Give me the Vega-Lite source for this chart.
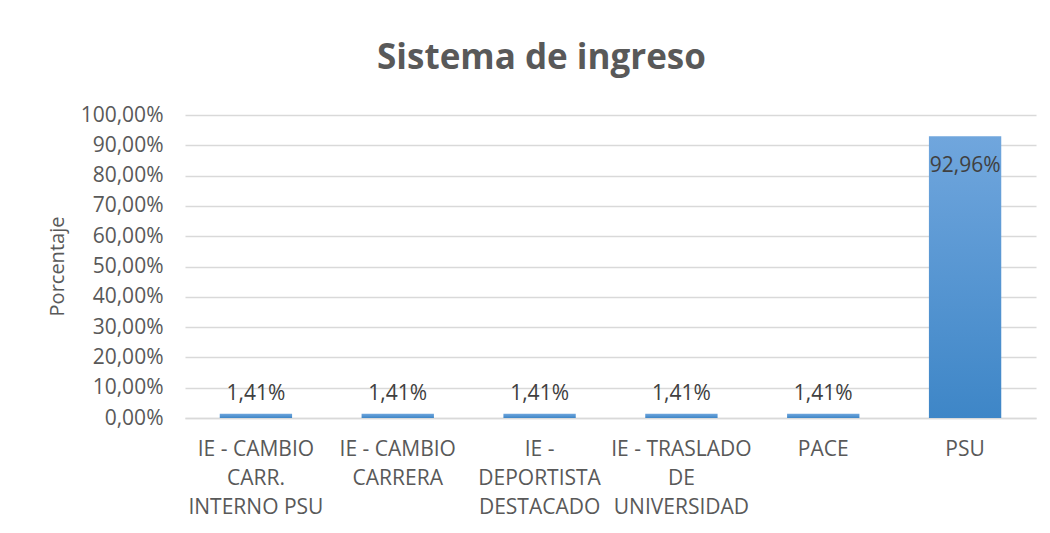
{
  "$schema": "https://vega.github.io/schema/vega-lite/v6.json",
  "width": 851,
  "height": 303,
  "autosize": "none",
  "padding": {"left": 185, "top": 115, "right": 14, "bottom": 115},
  "background": "white",
  "config": {
    "font": "Open Sans",
    "view": {"stroke": null},
    "locale": {"number": {"decimal": ",", "thousands": ".", "grouping": [3], "currency": ["$", ""]}}
  },
  "title": {
    "text": "Sistema de ingreso",
    "font": "Open Sans",
    "fontSize": 35,
    "fontWeight": "bold",
    "color": "#595959",
    "anchor": "middle",
    "frame": "bounds",
    "offset": 28
  },
  "data": {
    "values": [
      {"sistema": "IE - CAMBIO|CARR.|INTERNO PSU", "porcentaje": 0.0141},
      {"sistema": "IE - CAMBIO|CARRERA", "porcentaje": 0.0141},
      {"sistema": "IE -|DEPORTISTA|DESTACADO", "porcentaje": 0.0141},
      {"sistema": "IE - TRASLADO|DE|UNIVERSIDAD", "porcentaje": 0.0141},
      {"sistema": "PACE", "porcentaje": 0.0141},
      {"sistema": "PSU", "porcentaje": 0.9296}
    ]
  },
  "encoding": {
    "x": {
      "field": "sistema",
      "type": "nominal",
      "sort": null,
      "scale": {"paddingInner": 0.49, "paddingOuter": 0.245},
      "axis": {
        "title": null,
        "labelAngle": 0,
        "labelExpr": "split(datum.label, '|')",
        "labelFont": "Open Sans",
        "labelFontSize": 21,
        "labelColor": "#595959",
        "labelLineHeight": 29,
        "labelBaseline": "top",
        "labelPadding": 20,
        "ticks": false,
        "domainColor": "#d9d9d9",
        "domainWidth": 1.5,
        "labelLimit": 200
      }
    },
    "y": {
      "field": "porcentaje",
      "type": "quantitative",
      "scale": {"domain": [0, 1], "nice": false},
      "axis": {
        "title": "Porcentaje",
        "format": ".2%",
        "values": [0, 0.1, 0.2, 0.3, 0.4, 0.5, 0.6, 0.7, 0.8, 0.9, 1],
        "labelFont": "Open Sans",
        "labelFontSize": 21,
        "labelColor": "#595959",
        "labelPadding": 22,
        "ticks": false,
        "domain": false,
        "gridColor": "#d9d9d9",
        "gridWidth": 1.5,
        "titleFont": "Open Sans",
        "titleFontSize": 20,
        "titleFontWeight": "normal",
        "titleColor": "#595959",
        "titleX": -128,
        "titleY": 151,
        "titleAngle": -90,
        "titleAlign": "center",
        "titleBaseline": "middle"
      }
    }
  },
  "layer": [
    {
      "mark": {
        "type": "bar",
        "color": {
          "gradient": "linear",
          "x1": 0, "y1": 0, "x2": 0, "y2": 1,
          "stops": [
            {"offset": 0, "color": "#70a6dd"},
            {"offset": 1, "color": "#3e86c7"}
          ]
        }
      }
    },
    {
      "transform": [{"filter": "datum.porcentaje < 0.5"}],
      "mark": {"type": "text", "baseline": "alphabetic", "dy": -14, "font": "Open Sans", "fontSize": 21, "color": "#404040"},
      "encoding": {"text": {"field": "porcentaje", "type": "quantitative", "format": ".2%"}}
    },
    {
      "transform": [{"filter": "datum.porcentaje >= 0.5"}],
      "mark": {"type": "text", "baseline": "alphabetic", "dy": 36, "font": "Open Sans", "fontSize": 21, "color": "#404040"},
      "encoding": {"text": {"field": "porcentaje", "type": "quantitative", "format": ".2%"}}
    }
  ]
}
